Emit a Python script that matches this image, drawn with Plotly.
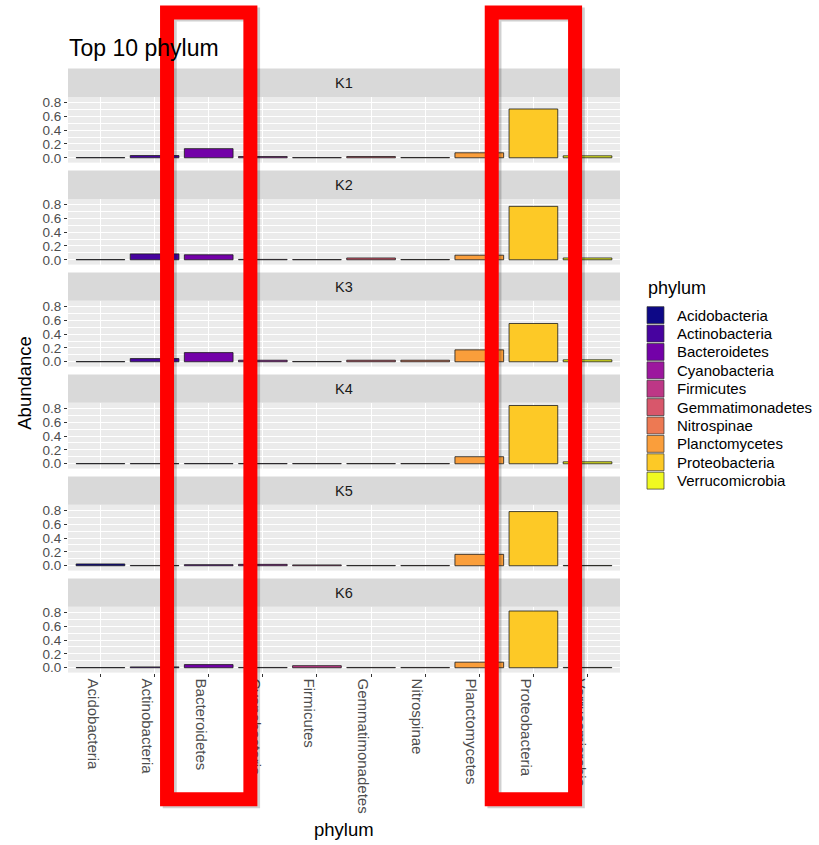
import plotly.graph_objects as go

# ---- data -------------------------------------------------------------
phyla = ["Acidobacteria", "Actinobacteria", "Bacteroidetes", "Cyanobacteria",
         "Firmicutes", "Gemmatimonadetes", "Nitrospinae", "Planctomycetes",
         "Proteobacteria", "Verrucomicrobia"]
samples = ["K1", "K2", "K3", "K4", "K5", "K6"]

abund_K1 = [0.003, 0.032, 0.132, 0.018, 0.003, 0.018, 0.004, 0.072, 0.705, 0.028]
abund_K2 = [0.003, 0.085, 0.072, 0.005, 0.003, 0.026, 0.004, 0.066, 0.772, 0.026]
abund_K3 = [0.003, 0.046, 0.132, 0.022, 0.004, 0.022, 0.022, 0.172, 0.553, 0.028]
abund_K4 = [0.003, 0.003, 0.003, 0.003, 0.003, 0.003, 0.003, 0.102, 0.842, 0.028]
abund_K5 = [0.026, 0.004, 0.016, 0.020, 0.012, 0.004, 0.004, 0.165, 0.783, 0.004]
abund_K6 = [0.003, 0.012, 0.045, 0.004, 0.030, 0.004, 0.004, 0.080, 0.820, 0.004]
abundance = [abund_K1, abund_K2, abund_K3, abund_K4, abund_K5, abund_K6]

# plasma palette, one colour per phylum
fill_colors = ["#0D0887", "#47039F", "#7301A8", "#9C179E", "#BD3786",
               "#D8576B", "#ED7953", "#FA9E3B", "#FDC926", "#F0F921"]

highlight = ["Bacteroidetes", "Proteobacteria"]

y_ticks = [0.0, 0.2, 0.4, 0.6, 0.8]
y_minor = [0.1, 0.3, 0.5, 0.7]

# ---- layout geometry (pixels) ----------------------------------------
W, H = 819, 845
FONT = "Liberation Sans, Arial, sans-serif"
px_x = lambda p: p / W
px_y = lambda p: 1 - p / H

panel_left, panel_right = 68, 620
x_lo, x_hi = -0.6, len(phyla) - 0.4
y_lo, y_hi = -0.07, 0.88
px_per_unit = 69.6
zero0, step = 156.7, 102.6
strip_h = 28.5
label_shift_px = 8          # rotated labels hang left of their tick

fig = go.Figure()
layout = dict(
    width=W, height=H,
    margin=dict(l=0, r=0, t=0, b=0),
    paper_bgcolor="white", plot_bgcolor="#EBEBEB",
    showlegend=False, bargap=0.1,
    font=dict(family=FONT),
)
shapes, annotations = [], []

for i, (name, vals) in enumerate(zip(samples, abundance)):
    k = i + 1
    xa = "x" if k == 1 else f"x{k}"
    ya = "y" if k == 1 else f"y{k}"
    zero = zero0 + step * i
    top = zero - y_hi * px_per_unit
    bottom = zero - y_lo * px_per_unit

    fig.add_trace(go.Bar(
        x=phyla, y=vals, xaxis=xa, yaxis=ya, width=0.9,
        marker=dict(color=fill_colors, line=dict(color="#1a1a1a", width=0.8)),
        hovertemplate="%{x}: %{y:.3f}<extra>" + name + "</extra>",
    ))

    last = (k == len(samples))
    layout["xaxis" if k == 1 else f"xaxis{k}"] = dict(
        domain=[px_x(panel_left), px_x(panel_right)],
        anchor=ya, type="category", categoryorder="array", categoryarray=phyla,
        range=[x_lo, x_hi],
        showgrid=True, gridcolor="white", gridwidth=1.2,
        showline=False, zeroline=False,
        showticklabels=False, ticks="outside" if last else "",
        ticklen=3, tickwidth=1, tickcolor="#333333",
        fixedrange=True,
    )
    layout["yaxis" if k == 1 else f"yaxis{k}"] = dict(
        domain=[px_y(bottom), px_y(top)],
        anchor=xa, range=[y_lo, y_hi],
        tickmode="array", tickvals=y_ticks, tickformat=".1f",
        showgrid=True, gridcolor="white", gridwidth=1.2,
        minor=dict(tickmode="array", tickvals=y_minor, showgrid=True,
                   gridcolor="white", gridwidth=0.6, ticks=""),
        zeroline=False, showline=False,
        ticks="outside", ticklen=3, tickwidth=1, tickcolor="#333333",
        tickfont=dict(size=13.5, color="#4D4D4D", family=FONT),
        fixedrange=True,
    )

    # facet strip
    shapes.append(dict(type="rect", xref="paper", yref="paper", layer="below",
                       x0=px_x(panel_left), x1=px_x(panel_right),
                       y0=px_y(top), y1=px_y(top - strip_h),
                       fillcolor="#D9D9D9", line=dict(width=0)))
    annotations.append(dict(text=name, xref="paper", yref="paper",
                            x=px_x((panel_left + panel_right) / 2),
                            y=px_y(top - strip_h / 2),
                            showarrow=False, xanchor="center", yanchor="middle",
                            font=dict(size=14.5, color="#1A1A1A", family=FONT)))

# label axis for the bottom facet: same scale, shifted so the rotated
# category names sit just left of their tick marks
n = len(samples)
unit_px = (panel_right - panel_left) / (x_hi - x_lo)
shift = label_shift_px / unit_px
lab_x = f"xaxis{n + 1}"
fig.add_trace(go.Scatter(x=[], y=[], xaxis=f"x{n + 1}", yaxis=f"y{n}",
                         hoverinfo="skip", showlegend=False))
layout[lab_x] = dict(
    domain=[px_x(panel_left), px_x(panel_right)],
    anchor=f"y{n}", overlaying=f"x{n}", side="bottom",
    range=[x_lo + shift, x_hi + shift],
    tickmode="array", tickvals=list(range(len(phyla))), ticktext=phyla,
    showgrid=False, zeroline=False, showline=False, ticks="",
    ticklabelstandoff=5, tickangle=90,
    tickfont=dict(size=15, color="#4D4D4D", family=FONT),
    fixedrange=True,
)

# titles
annotations.append(dict(text="Top 10 phylum", xref="paper", yref="paper",
                        x=px_x(67), y=px_y(46), xanchor="left", yanchor="middle",
                        showarrow=False, font=dict(size=23, color="black", family=FONT)))
annotations.append(dict(text="Abundance", xref="paper", yref="paper",
                        x=px_x(25), y=px_y(383), textangle=-90,
                        xanchor="center", yanchor="middle", showarrow=False,
                        font=dict(size=18.5, color="black", family=FONT)))
annotations.append(dict(text="phylum", xref="paper", yref="paper",
                        x=px_x(344), y=px_y(832), xanchor="center", yanchor="middle",
                        showarrow=False, font=dict(size=18.5, color="black", family=FONT)))

# legend drawn as keys + labels
leg_x, leg_y0, leg_step, key = 647, 306.5, 18.5, 17
annotations.append(dict(text="phylum", xref="paper", yref="paper",
                        x=px_x(leg_x - 1), y=px_y(288), xanchor="left", yanchor="middle",
                        showarrow=False, font=dict(size=18, color="black", family=FONT)))
for j, (ph, col) in enumerate(zip(phyla, fill_colors)):
    yt = leg_y0 + j * leg_step
    shapes.append(dict(type="rect", xref="paper", yref="paper",
                       x0=px_x(leg_x), x1=px_x(leg_x + key),
                       y0=px_y(yt + key), y1=px_y(yt),
                       fillcolor=col, line=dict(color="#333333", width=0.7)))
    annotations.append(dict(text=ph, xref="paper", yref="paper",
                            x=px_x(675), y=px_y(yt + key / 2),
                            xanchor="left", yanchor="middle", showarrow=False,
                            font=dict(size=15, color="black", family=FONT)))

# red highlight frames around selected phyla, with a faint drop shadow
for ph in highlight:
    idx = phyla.index(ph)
    for dx, col, op in [(0.05, "#000000", 0.18), (0.0, "#FF0000", 1.0)]:
        shapes.append(dict(type="rect", xref=f"x{n}", yref="paper", layer="above",
                           x0=idx - 0.77 + dx, x1=idx + 0.77 + dx,
                           y0=px_y(802 + dx * 40), y1=px_y(10.5 + dx * 40),
                           fillcolor="rgba(0,0,0,0)", opacity=op,
                           line=dict(color=col, width=14)))

layout["shapes"] = shapes
layout["annotations"] = annotations
fig.update_layout(**layout)
fig.write_html("out.html")
